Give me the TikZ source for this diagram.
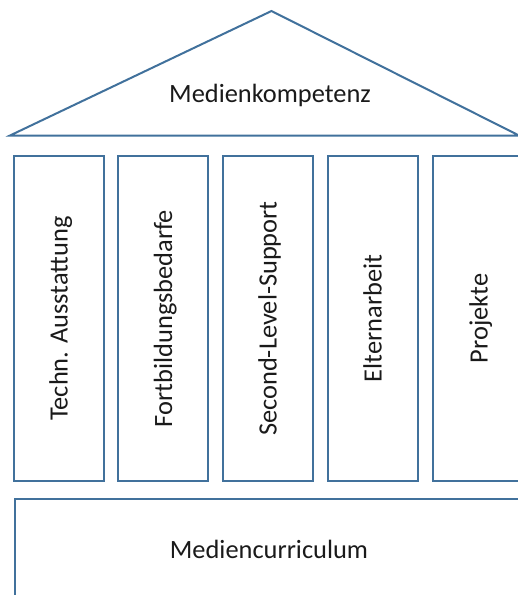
\documentclass[tikz,border=0pt]{standalone}
\usepackage{fontspec}
\setmainfont{Carlito}
\definecolor{edge}{HTML}{41719C}
\definecolor{ink}{HTML}{1A1A1A}
\begin{document}
\begin{tikzpicture}[x=1pt,y=-1pt,
  outline/.style={draw=edge, line width=2pt},
  pillar/.style={outline, rectangle, minimum width=90pt, minimum height=325pt, inner sep=0pt},
  lbl/.style={font=\fontsize{26.4}{30}\selectfont, text=ink, inner sep=0pt, anchor=base},
  vlbl/.style={lbl, rotate=90}]
\useasboundingbox (0,0) rectangle (518,595);
\clip (0,0) rectangle (518,595);
% roof
\coordinate (rl) at (10,135.5);
\coordinate (rt) at (271.5,11);
\coordinate (rr) at (519,135.5);
\draw[outline, line join=miter] (rl) -- (rt) -- (rr) -- cycle;
\node[lbl] (roof) at (270,102) {Medienkompetenz};
% pillars
\node[pillar] (p1) at (59,318.5) {};
\node[pillar] (p2) at (162.5,318.5) {};
\node[pillar] (p3) at (267.5,318.5) {};
\node[pillar] (p4) at (372.5,318.5) {};
\node[pillar] (p5) at (478,318.5) {};
\node[vlbl] (t1) at (67.5,318.5) {Techn. Ausstattung};
\node[vlbl] (t2) at (172,318.5) {Fortbildungsbedarfe};
\node[vlbl] (t3) at (276.5,318.5) {Second-Level-Support};
\node[vlbl] (t4) at (381.5,318.5) {Elternarbeit};
\node[vlbl] (t5) at (487.5,318.5) {Projekte};
% base
\node[outline, rectangle, inner sep=0pt, minimum width=540pt, minimum height=140pt, anchor=north west] (base) at (14,498) {};
\node[lbl] (basetext) at (269,558) {Mediencurriculum};
\end{tikzpicture}
\end{document}
